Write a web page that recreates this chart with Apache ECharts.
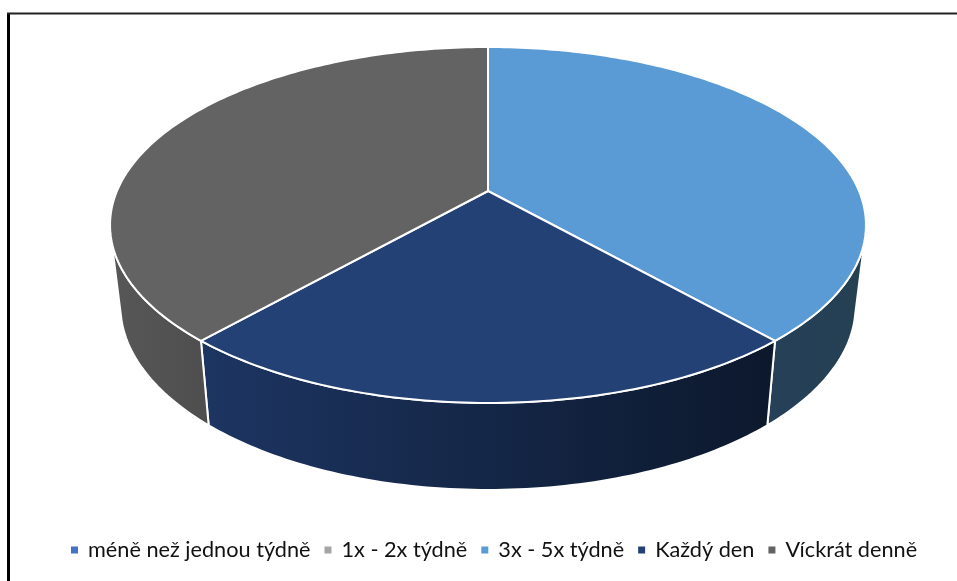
<!DOCTYPE html>
<html>
<head>
<meta charset="utf-8">
<title>Frekvence</title>
<style>
  html, body { margin: 0; padding: 0; background: #fff; }
  #chart { width: 957px; height: 581px; }
</style>
</head>
<body>
<div id="chart"></div>
<script src="https://cdn.jsdelivr.net/npm/echarts@6/dist/echarts.min.js"></script>
<script>
const categories = ['méně než jednou týdně', '1x - 2x týdně', '3x - 5x týdně', 'Každý den', 'Víckrát denně']
const values = [0, 0, 5, 3, 5]
const topColors = ['#4472C4', '#A5A5A5', '#5B9BD5', '#234175', '#636363']
const sideFrom = ['#2A4474', '#636363', '#264059', '#1D3562', '#575757']
const sideTo = ['#2A4474', '#636363', '#253F52', '#0C182C', '#4E4E4E']

// perspective of the disc: k tilts the far side, top/bottom are the two faces
const persp = 0.191
const topFace = { cx: 488, y0: 191, a: -135, w: 371 }
const bottomFace = { cx: 488, y0: 269.7, a: -126.7, w: 361 }
// only this part of the rim faces the viewer (degrees clockwise from 12 o'clock)
const rimStart = 106
const rimEnd = 254

const total = values.reduce((s, v) => s + v, 0)

function project(face, deg) {
  const rad = (deg * Math.PI) / 180
  const u = Math.sin(rad)
  const v = Math.cos(rad)
  const d = 1 + persp * v
  return [face.cx + (face.w * u) / d, (face.y0 + face.a * v) / d]
}

function arc(face, from, to) {
  const pts = []
  const steps = Math.max(2, Math.ceil(Math.abs(to - from)))
  for (let i = 0; i <= steps; i++) pts.push(project(face, from + ((to - from) * i) / steps))
  return pts
}

function sliceAngles(idx) {
  const before = values.slice(0, idx).reduce((s, v) => s + v, 0)
  return [(before / total) * 360, ((before + values[idx]) / total) * 360]
}

function renderSlice(idx) {
  const [from, to] = sliceAngles(idx)
  const children = []

  const rimFrom = Math.max(from, rimStart)
  const rimTo = Math.min(to, rimEnd)
  if (rimTo > rimFrom) {
    children.push({
      type: 'polygon',
      shape: { points: arc(topFace, rimFrom, rimTo).concat(arc(bottomFace, rimTo, rimFrom)) },
      style: {
        fill: new echarts.graphic.LinearGradient(0, 0, 1, 0, [
          { offset: 0, color: sideFrom[idx] },
          { offset: 1, color: sideTo[idx] },
        ]),
        stroke: '#fff',
        lineWidth: 2,
        lineJoin: 'round',
      },
    })
  }
  children.push({
    type: 'polygon',
    z2: 10,
    shape: { points: [[topFace.cx, topFace.y0]].concat(arc(topFace, from, to)) },
    style: { fill: topColors[idx], stroke: '#fff', lineWidth: 2, lineJoin: 'round' },
  })
  return children
}

const chart = echarts.init(document.getElementById('chart'))

chart.setOption({
  animation: false,
  backgroundColor: '#fff',
  color: topColors,
  legend: {
    data: categories,
    left: 66,
    top: 534,
    icon: 'rect',
    itemWidth: 7,
    itemHeight: 7,
    itemGap: 14,
    selectedMode: false,
    textStyle: { fontFamily: 'Lato', fontSize: 21.7, color: '#111', padding: [0, 0, 0, 5] },
  },
  graphic: [
    { type: 'line', silent: true, shape: { x1: 8.5, y1: 13, x2: 8.5, y2: 581 }, style: { stroke: '#000', lineWidth: 3 } },
    { type: 'line', silent: true, shape: { x1: 7, y1: 13.5, x2: 957, y2: 13.5 }, style: { stroke: '#222', lineWidth: 2 } },
  ],
  series: categories.map((name, i) => ({
    name,
    type: 'custom',
    coordinateSystem: 'none',
    silent: true,
    data: [values[i]],
    renderItem: () => (values[i] > 0 ? { type: 'group', children: renderSlice(i) } : null),
  })),
})

window.addEventListener('resize', () => chart.resize())
</script>
</body>
</html>
